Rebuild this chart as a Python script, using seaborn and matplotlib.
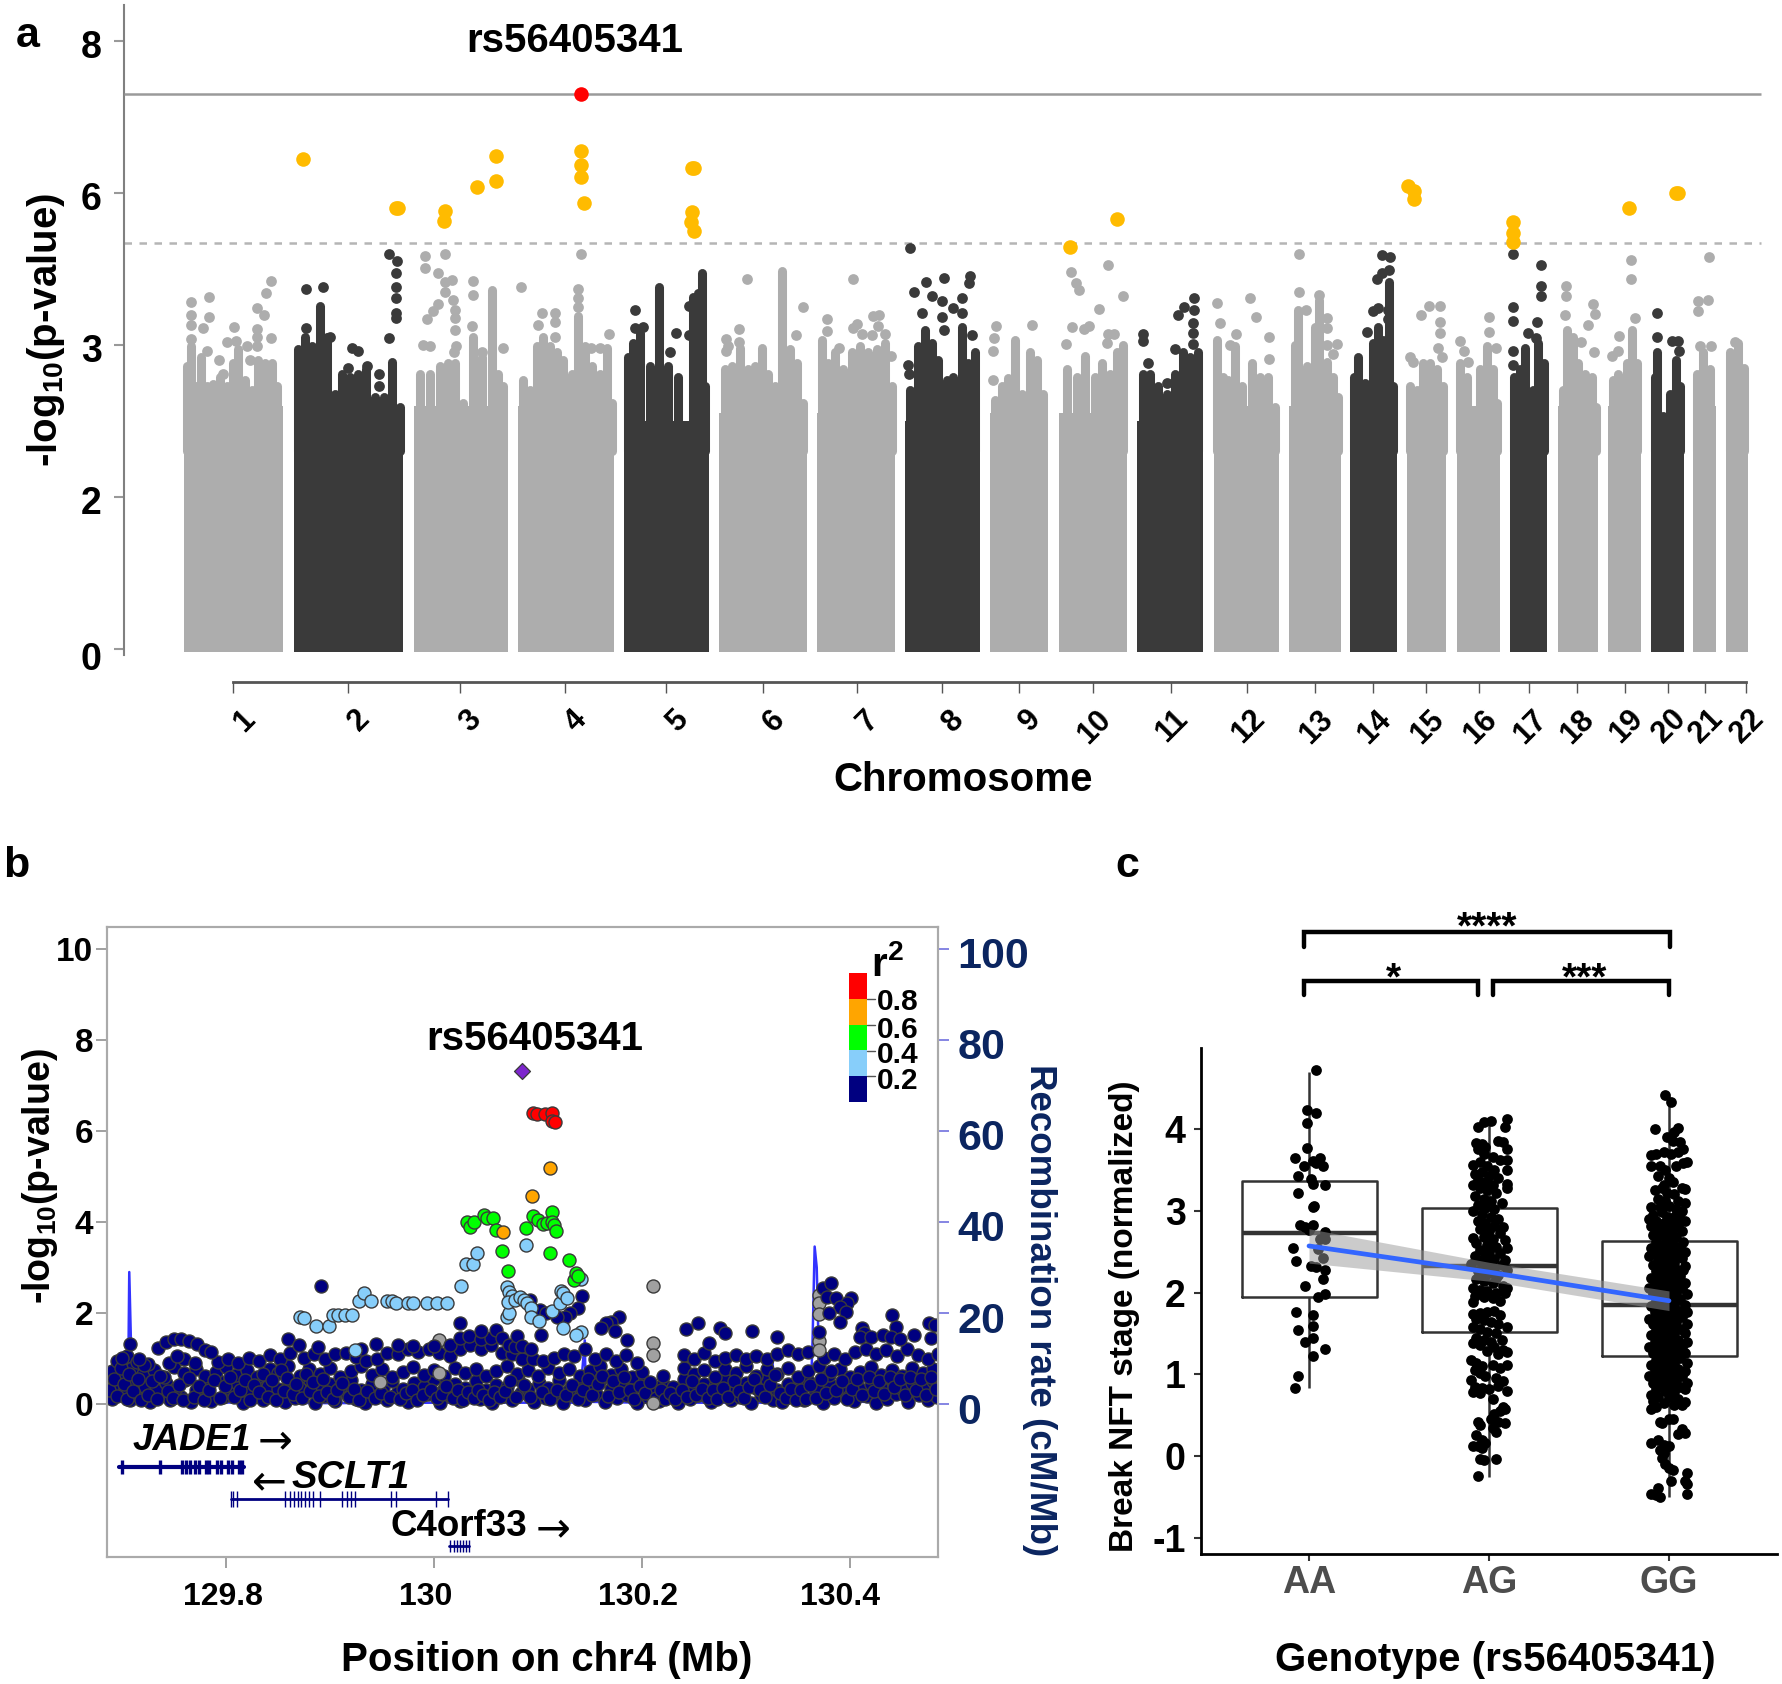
import numpy as np
import pandas as pd
import seaborn as sns
import matplotlib.pyplot as plt
import matplotlib.transforms as mtrans
from matplotlib.colors import ListedColormap
from matplotlib.lines import Line2D

sns.set_theme(style="white")
plt.rcParams['font.family'] = ['Liberation Sans', 'DejaVu Sans']
plt.rcParams['font.weight'] = 'bold'
plt.rcParams['text.color'] = 'black'
plt.rcParams['xtick.color'] = 'black'
plt.rcParams['ytick.color'] = 'black'
plt.rcParams['mathtext.fontset'] = 'custom'
plt.rcParams['mathtext.bf'] = 'Liberation Sans:bold'
plt.rcParams['mathtext.rm'] = 'Liberation Sans:bold'

# ---------- panel a data ----------
chrom_names = [str(i) for i in range(1, 23)]
chrom_start = [184, 294, 414, 518, 624, 719, 817, 905, 990, 1059, 1137, 1214, 1289, 1350, 1407, 1457, 1510, 1558, 1608, 1651, 1693, 1726]
chrom_end = [283, 403, 508, 614, 709, 807, 895, 980, 1048, 1127, 1203, 1279, 1341, 1397, 1446, 1500, 1547, 1598, 1641, 1684, 1716, 1748]
chrom_top = [2.6, 2.55, 2.6, 2.6, 2.5, 2.55, 2.55, 2.5, 2.55, 2.55, 2.5, 2.6, 2.6, 2.55, 2.6, 2.6, 2.5, 2.6, 2.6, 2.45, 2.6, 2.6]
chrom_ticks = [233, 348, 460, 565, 666, 763, 857, 942, 1019, 1093, 1171, 1247, 1315, 1373, 1426, 1479, 1529, 1577, 1625, 1668, 1705, 1746]

light_cols = [(187,2.86),(191,2.99),(196,2.73),(201,2.92),(207,2.73),(213,2.74),(220,2.79),(227,2.73),(233,2.88),(238,2.97),(245,2.77),(252,2.70),(258,2.90),(265,2.88),(272,2.88),(277,2.73),
    (420,2.81),(430,2.81),(440,2.86),(448,2.88),(455,2.88),(463,2.62),(473,3.16),(482,2.92),(492,4.09),(498,2.81),(503,2.73),
    (523,2.77),(530,2.70),(537,2.99),(543,3.16),(550,2.99),(557,2.95),(563,2.90),(572,2.81),(578,3.56),(585,2.99),(592,2.86),(600,2.81),(607,2.98),(612,2.62),
    (725,2.84),(732,2.86),(740,2.98),(748,2.84),(755,2.86),(762,2.98),(768,2.81),(775,2.73),(782,4.45),(790,2.97),(797,2.88),(803,2.62),
    (822,3.10),(828,2.88),(835,2.95),(843,2.84),(852,2.95),(860,2.99),(868,2.95),(877,2.97),(885,3.03),(892,2.73),
    (995,2.64),(1002,2.73),(1008,2.78),(1015,3.1),(1022,2.68),(1030,2.95),(1037,2.9),(1043,2.68),
    (1067,2.84),(1077,2.79),(1085,2.93),(1095,2.79),(1102,2.88),(1110,2.81),(1117,2.95),(1123,3.0),
    (1217,3.1),(1223,2.79),(1228,2.77),(1235,2.99),(1242,2.73),(1252,2.88),(1260,2.79),(1268,2.79),(1275,2.59),
    (1295,3.0),(1298,3.69),(1307,2.86),(1315,3.36),(1319,3.89),(1327,2.89),(1333,2.79),(1338,2.66),
    (1410,2.73),(1417,2.70),(1423,2.88),(1430,2.88),(1437,2.84),(1443,2.73),
    (1460,2.88),(1467,2.79),(1473,2.57),(1480,2.84),(1487,2.99),(1493,2.84),(1497,2.62),
    (1563,2.70),(1567,3.3),(1573,3.16),(1578,2.88),(1585,2.81),(1592,2.79),(1596,2.59),
    (1613,2.77),(1618,2.81),(1627,2.88),(1632,3.3),(1637,2.88),
    (1697,2.81),(1703,2.95),(1710,2.84),(1730,2.95),(1738,3.03),(1744,2.85)]
dark_cols = [(298,2.97),(305,3.15),(312,2.99),(320,3.76),(327,3.16),(335,2.68),(342,2.81),(350,2.79),(358,2.81),(366,2.84),(375,2.66),(384,2.66),(392,2.89),(400,2.59),
    (628,2.92),(633,3.03),(640,3.23),(650,2.86),(659,4.15),(668,2.86),(678,2.79),(693,3.95),(695,3.36),(698,4.02),(702,4.41),(705,2.73),
    (910,2.70),(918,2.99),(925,3.3),(932,3.03),(938,2.90),(947,2.77),(953,2.79),(962,3.36),(968,2.88),(975,2.95),
    (1143,2.81),(1150,2.81),(1158,2.73),(1167,2.68),(1175,2.81),(1183,2.95),(1190,2.92),(1198,2.95),
    (1354,2.79),(1358,2.92),(1365,2.75),(1373,3.03),(1378,3.36),(1383,3.1),(1389,4.25),(1393,2.73),
    (1514,2.79),(1520,2.84),(1525,2.98),(1533,2.7),(1538,3.03),(1544,2.88),
    (1655,2.79),(1657,2.95),(1663,2.53),(1670,2.68),(1676,2.90),(1680,2.73)]
light_dots = [(191,3.84),(191,3.59),(191,3.39),(191,3.11),(209,3.94),(209,3.55),(203,3.34),(207,2.96),(219,2.90),(234,3.35),(227,3.05),(236,3.07),(247,2.99),(257,3.31),(257,3.15),(257,2.99),(271,3.13),(257,3.73),(264,3.59),(266,4.02),(271,4.26),(250,2.90),(223,2.81),
    (425,4.76),(445,4.80),(425,4.51),(438,4.41),(445,4.25),(452,4.28),(445,4.05),(453,3.89),(438,3.81),(433,3.66),(427,3.51),(423,3.0),(430,2.99),(473,4.26),(473,3.99),(472,3.38),(503,2.98),(482,2.95),(455,3.69),(455,3.53),(455,3.30),(456,2.99),(454,2.95),
    (581,4.80),(521,4.15),(578,4.10),(578,3.92),(578,3.74),(542,3.62),(555,3.62),(555,3.46),(538,3.39),(555,3.15),(609,3.21),(600,2.98),(591,2.98),
    (747,4.30),(803,3.74),(739,3.32),(726,3.11),(739,3.05),(726,2.96),(796,3.2),(728,2.99),
    (853,4.30),(827,3.52),(827,3.28),(839,2.98),(857,3.41),(853,3.33),(862,3.21),(872,3.2),(873,3.56),(879,3.59),(878,3.37),(885,3.22),(891,2.93),
    (996,3.38),(1032,3.39),(994,3.13),(993,2.96),(993,2.77),
    (1108,4.58),(1071,4.43),(1076,4.22),(1079,4.09),(1123,3.97),(1099,3.7),(1072,3.36),(1084,3.32),(1089,3.38),(1108,3.22),(1114,3.22),(1107,3.03),(1066,3.02),
    (1217,3.82),(1250,3.93),(1220,3.44),(1256,3.55),(1236,3.22),(1269,3.16),(1269,2.91),(1230,3.0),
    (1299,4.79),(1299,4.04),(1319,3.99),(1327,3.53),(1327,3.34),(1327,3.0),(1337,3.01),(1333,2.94),(1306,3.68),
    (1410,2.92),(1413,2.89),(1429,3.77),(1440,3.77),(1421,3.58),(1440,3.46),(1440,3.23),(1438,2.98),(1442,2.92),
    (1489,3.54),(1489,3.26),(1460,3.07),(1464,2.96),(1468,2.89),(1496,2.98),
    (1566,4.17),(1566,3.97),(1593,3.81),(1595,3.61),(1565,3.59),(1588,3.4),(1581,3.05),(1594,2.95),
    (1631,4.68),(1631,4.3),(1635,3.53),(1619,3.18),(1612,2.93),(1618,2.96),
    (1709,4.73),(1698,3.87),(1708,3.89),(1698,3.66),(1700,2.99),(1711,2.99),(1735,3.06)]
dark_dots = [(306,4.10),(323,4.14),(352,2.98),(358,2.96),(348,2.85),(367,2.86),(379,2.81),(379,2.73),(389,3.13),(396,3.53),(396,3.63),(396,3.92),(396,4.14),(396,4.41),(397,4.66),(389,4.80),(306,3.33),(330,3.15),
    (635,3.69),(635,3.33),(643,3.35),(676,3.24),(670,2.95),(689,3.76),(689,3.2),
    (910,4.91),(926,4.25),(944,4.32),(914,4.05),(932,3.97),(942,3.86),(962,3.92),(953,3.72),(970,4.35),(969,4.22),(922,3.63),(942,3.55),(962,3.62),(944,3.30),(908,2.87),(909,2.81),(972,3.2),
    (1194,3.93),(1184,3.74),(1178,3.59),(1194,3.69),(1193,3.43),(1193,3.23),(1193,3.02),(1143,3.22),(1143,3.07),(1148,2.88),(1175,2.97),(1167,2.75),
    (1382,4.78),(1390,4.74),(1389,4.48),(1382,4.41),(1377,4.3),(1373,3.66),(1378,3.72),(1367,3.26),(1388,3.51),(1388,3.69),
    (1513,4.80),(1541,4.58),(1541,4.17),(1541,3.97),(1513,3.74),(1513,3.48),(1537,3.45),(1528,3.23),(1536,3.13),(1513,2.96),(1513,2.87),
    (1657,3.62),(1657,3.16),(1672,3.07),(1678,3.07),(1679,2.96)]
yellow_dots = [(303,6.45),(396,5.71),(398,5.71),(445,5.64),(444,5.44),(477,6.07),(496,6.16),(496,6.49),(581,6.55),(581,6.37),(581,6.21),(584,5.80),(692,6.32),(694,6.32),(692,5.63),(691,5.42),(694,5.25),
    (1070,4.94),(1117,5.48),(1408,6.09),(1414,6.02),(1414,5.88),(1513,5.43),(1513,5.2),(1513,5.02),(1629,5.71),(1676,6.0),(1678,6.0)]
lead_snp = [(581, 7.3)]
lead_name = "rs56405341"

# ---------- panel b data ----------
red_pts = [(130.0955,6.39),(130.0987,6.38),(130.1067,6.38),(130.113,6.39),(130.113,6.22),(130.1163,6.2)]
orange_pts = [(130.1115,5.19),(130.0939,4.57),(130.0666,3.79)]
green_pts = [(130.0314,4.0),(130.0346,3.88),(130.0388,4.0),(130.0484,4.15),(130.0506,4.08),(130.057,4.08),(130.0593,3.83),(130.0654,3.36),(130.0708,2.93),(130.0884,3.86),(130.0955,4.13),(130.0997,4.05),(130.1051,3.95),(130.109,3.97),(130.1131,4.21),(130.1131,4.0),(130.1154,3.93),(130.1173,3.80),(130.1115,3.32),(130.1298,3.16),(130.1346,2.72),(130.1362,2.88),(130.138,2.82)]
blue_pts = [(129.871,1.91),(129.875,1.90),(129.887,1.72),(129.8987,1.72),(129.9025,1.96),(129.908,1.96),(129.9144,1.96),(129.9211,1.96),(129.9282,2.26),(129.933,2.44),(129.9394,2.26),(129.9545,2.26),(129.9593,2.26),(129.9634,2.21),(129.9753,2.21),(129.9801,2.21),(129.9936,2.21),(130.0025,2.21),(130.0121,2.21),(130.0256,2.6),(130.0307,3.07),(130.0378,3.07),(130.041,3.32),(129.924,1.18),
    (130.0698,1.91),(130.0718,1.99),(130.0705,2.57),(130.0724,2.46),(130.0746,2.37),(130.0714,2.24),(130.0778,2.28),(130.0827,2.35),(130.0869,2.28),(130.0897,2.23),(130.0933,2.12),(130.0929,1.91),(130.1009,1.82),(130.1131,2.05),(130.1211,2.21),(130.1218,2.48),(130.1237,2.44),(130.1276,2.32),(130.1244,1.66),(130.0881,3.49),(130.1413,1.58),(130.1365,1.52),(130.1413,2.75)]
grey_pts = [(130.211,2.6),(130.211,1.35),(130.211,1.07),(130.37,2.39),(130.37,2.23),(130.37,1.97),(130.37,1.39),(130.37,1.18),(130.005,1.41),(130.005,0.69),(129.948,.48),(130.211,0.03)]
navy_high = [(129.891,2.6),(129.708,1.31),(130.025,1.77),(130.142,2.37),(130.138,2.1),(130.131,1.99),(130.126,1.91),(130.102,2.06),(130.108,1.99),(130.118,1.91),(130.1025,1.51),(130.0925,2.28),
    (130.178,1.91),(130.170,1.80),(130.165,1.77),(130.161,1.68),(130.174,1.61),(130.186,1.41),(130.2425,1.65),(130.254,1.78),(130.275,1.68),(130.28,1.55),(130.2645,1.34),(130.306,1.61),(130.33,1.47),(130.374,2.54),(130.382,2.65),(130.378,2.35),(130.387,2.32),(130.401,2.32),(130.3975,2.21),(130.3905,2.13),(130.38,1.99),(130.396,2.02),(130.3905,1.80),(130.44,1.95),(130.476,1.79),(130.482,1.73),(130.444,1.69),(130.462,1.51),(130.478,1.45),(130.4115,1.68),(130.413,1.55),(130.4095,1.47),(130.42,1.47),(130.432,1.51),(130.439,1.47),(130.448,1.44),(130.3705,1.58),
    (129.7,1.02),(129.716,.98),(129.735,1.24),(129.742,1.36),(129.75,1.43),(129.757,1.42),(129.764,1.38),(129.772,1.31),(129.78,1.18),(129.786,1.15),(129.753,1.06),(129.86,1.43),(129.87,1.3),(129.888,1.25),(129.93,1.2),(129.944,1.32),(129.965,1.3),(129.98,1.27),(130.0,1.27),(130.015,1.3),(130.025,1.45),(130.034,1.5),(130.045,1.42),(130.055,1.45),(130.06,1.62),(130.045,1.6),(130.065,1.45),(130.072,1.3),(130.078,1.25),(130.08,1.5),(130.085,1.28),(130.093,1.2)]
navy_low = [(129.69,.12),(129.697,.22),(129.708,.08),(129.716,.18),(129.727,.05),(129.738,.2),(129.746,.1),(129.757,.16),(129.766,.04),(129.775,.22),(129.786,.07),(129.797,.15),(129.805,.24),(129.816,.03),(129.824,.18),(129.836,.09),(129.845,.21),(129.857,.04),(129.866,.14),(129.874,.24),(129.886,.02),(129.894,.17),(129.905,.06),(129.916,.21),(129.925,.11),(129.934,.03),(129.946,.2),(129.955,.08),(129.964,.24),(129.975,.05),(129.986,.15),(129.994,.22),(130.006,.03),(130.014,.19),(130.025,.07),(130.036,.23),(130.044,.12),(130.056,.02),(130.066,.18),(130.075,.09),(130.084,.25),(130.096,.05),(130.108,.14),(130.115,.21),(130.124,.03),(130.136,.17),(130.145,.08),(130.156,.23),(130.164,.04),(130.176,.13),(130.186,.2),(130.195,.02),(130.206,.16),(130.216,.07),(130.224,.24),(130.235,.03),(130.246,.12),(130.254,.19),(130.266,.05),(130.275,.22),(130.286,.09),(130.294,.16),(130.305,.03),(130.314,.2),(130.326,.1),(130.335,.04),(130.344,.18),(130.356,.08),(130.366,.23),(130.374,.03),(130.385,.14),(130.396,.21),(130.404,.06),(130.416,.17),(130.425,.03),(130.436,.12),(130.444,.22),(130.456,.05),(130.466,.19),(130.475,.09),(130.484,.15),
    (129.693,.42),(129.703,.33),(129.712,.5),(129.722,.38),(129.733,.3),(129.742,.47),(129.752,.36),(129.761,.52),(129.771,.31),(129.781,.44),(129.791,.55),(129.801,.35),(129.811,.47),(129.82,.3),(129.83,.53),(129.84,.4),(129.85,.34),(129.861,.49),(129.87,.37),(129.88,.56),(129.89,.32),(129.9,.45),(129.91,.38),(129.92,.52),(129.93,.3),(129.94,.43),(129.951,.35),(129.96,.5),(129.97,.32),(129.981,.46),(129.99,.38),(130.0,.54),(130.01,.33),(130.02,.44),(130.03,.36),(130.04,.5),(130.05,.3),(130.06,.42),(130.07,.37),(130.081,.55),(130.09,.32),(130.101,.47),(130.11,.36),(130.12,.52),(130.13,.31),(130.14,.44),(130.15,.38),(130.16,.53),(130.17,.33),(130.18,.46),(130.19,.36),(130.2,.51),(130.21,.3),(130.22,.43),(130.23,.37),(130.24,.55),(130.25,.32),(130.26,.45),(130.27,.39),(130.28,.52),(130.29,.33),(130.3,.47),(130.31,.36),(130.32,.53),(130.33,.31),(130.34,.44),(130.35,.38),(130.36,.5),(130.37,.33),(130.38,.46),(130.39,.37),(130.4,.54),(130.41,.32),(130.42,.45),(130.43,.38),(130.44,.52),(130.45,.33),(130.46,.47),(130.47,.36),(130.48,.5),
    (129.69,.72),(129.7,.62),(129.71,.8),(129.72,.66),(129.731,.74),(129.74,.6),(129.75,.82),(129.76,.68),(129.771,.76),(129.78,.62),(129.79,.7),(129.8,.82),(129.81,.64),(129.82,.74),(129.83,.6),(129.842,.78),(129.85,.68),(129.86,.84),(129.871,.62),(129.88,.76),(129.89,.66),(129.9,.8),(129.91,.6),(129.92,.72),(129.93,.84),(129.94,.64),(129.95,.76),(129.96,.6),(129.97,.7),(129.98,.82),(129.99,.64),(130.0,.74),(130.01,.62),(130.02,.8),(130.03,.68),(130.04,.76),(130.05,.62),(130.06,.72),(130.07,.84),(130.08,.66),(130.09,.74),(130.1,.62),(130.11,.8),(130.12,.68),(130.13,.76),(130.14,.62),(130.15,.72),(130.16,.84),(130.17,.64),(130.18,.76),(130.19,.6),(130.2,.7),(130.22,.62),(130.24,.8),(130.25,.66),(130.26,.74),(130.27,.6),(130.28,.78),(130.29,.68),(130.3,.84),(130.31,.62),(130.32,.76),(130.33,.66),(130.34,.8),(130.35,.6),(130.36,.72),(130.37,.84),(130.38,.64),(130.39,.76),(130.4,.6),(130.41,.7),(130.42,.82),(130.43,.64),(130.44,.74),(130.45,.62),(130.46,.8),(130.47,.68),(130.48,.76),
    (129.695,.95),(129.705,1.05),(129.714,.92),(129.725,.88),(129.745,.9),(129.76,1.0),(129.77,.9),(129.792,.92),(129.802,1.0),(129.812,.9),(129.822,1.02),(129.832,.95),(129.842,1.08),(129.852,1.0),(129.862,1.12),(129.875,1.02),(129.885,1.1),(129.895,1.0),(129.905,1.1),(129.915,1.12),(129.925,1.04),(129.935,.95),(129.945,1.0),(129.955,1.12),(129.965,1.1),(129.975,1.22),(129.985,1.14),(129.995,1.2),(130.005,1.12),(130.015,1.05),(130.025,1.22),(130.035,1.3),(130.045,1.2),(130.055,1.3),(130.065,1.12),(130.075,1.1),(130.085,.98),(130.095,1.0),(130.105,.95),(130.115,1.02),(130.125,1.1),(130.135,1.05),(130.145,1.2),(130.155,1.0),(130.165,1.1),(130.175,.95),(130.185,1.08),(130.195,.9),(130.24,1.08),(130.25,1.0),(130.26,1.12),(130.27,.95),(130.28,1.02),(130.29,1.08),(130.3,.98),(130.31,1.05),(130.32,1.0),(130.33,1.1),(130.34,1.18),(130.35,1.1),(130.36,1.15),(130.375,1.02),(130.385,1.1),(130.395,1.0),(130.405,1.15),(130.415,1.22),(130.425,1.1),(130.435,1.18),(130.445,1.05),(130.455,1.2),(130.465,1.08),(130.475,1.0),(130.485,1.1)]
navy_fill = [(129.688,.3),(129.692,.55),(129.695,.18),(129.699,.8),(129.702,.45),(129.705,.12),(129.707,.65),(129.711,.28),(129.715,.55),(129.718,.1),(129.721,.85),(129.725,.2),(129.729,.5),(129.734,.12),(129.737,.62),(129.744,.28),(129.749,.14),(129.755,.42),(129.759,.08),(129.764,.58),(129.769,.16),(129.774,.4),(129.779,.1),(129.784,.3),(129.788,.52),(129.794,.14),(129.799,.4),(129.804,.6),(129.808,.16),(129.813,.3),(129.818,.52),(129.823,.1),(129.827,.42),(129.832,.26),(129.836,.66),(129.84,.16),(129.844,.52),(129.848,.1),(129.853,.74),(129.856,.28),(129.859,.58),(129.864,.22),(129.867,.44),(129.873,.14),(129.877,.66),(129.881,.28),(129.884,.48),(129.889,.18),(129.893,.55),(129.897,.26),(129.903,.12),(129.907,.3),(129.912,.46),(129.918,.16),(129.923,.34),(129.928,.1),(129.936,.28),(129.943,.14),(129.949,.24),(129.958,.16),(129.967,.12),(129.973,.24),(129.979,.3),(129.984,.08),(129.989,.2),(129.997,.3),(130.003,.14),(130.008,.22),(130.012,.4),(130.018,.14),(130.023,.3),(130.028,.1),(130.033,.26),(130.038,.14),(130.042,.3),(130.047,.2),(130.053,.1),(130.058,.26),(130.063,.16),(130.068,.28),(130.073,.5),(130.079,.16),(130.087,.42),(130.092,.16),(130.104,.26),(130.112,.12),(130.118,.3),(130.127,.2),(130.133,.42),(130.138,.12),(130.143,.3),(130.148,.56),(130.152,.2),(130.158,.44),(130.162,.62),(130.167,.18),(130.172,.5),(130.178,.26),(130.183,.6),(130.188,.3),(130.192,.12),(130.198,.4),(130.203,.24),(130.208,.48),(130.213,.14),(130.218,.3),(130.222,.12),(130.227,.25),(130.232,.12),(130.238,.3),(130.243,.16),(130.248,.5),(130.252,.2),(130.258,.34),(130.263,.14),(130.268,.3),(130.272,.12),(130.278,.36),(130.283,.16),(130.288,.5),(130.293,.28),(130.298,.14),(130.303,.38),(130.308,.55),(130.313,.3),(130.318,.15),(130.323,.42),(130.328,.64),(130.333,.24),(130.338,.14),(130.343,.32),(130.348,.1),(130.353,.3),(130.358,.12),(130.362,.42),(130.367,.14),(130.372,.55),(130.377,.25),(130.382,.72),(130.387,.3),(130.392,.5),(130.397,.12),(130.402,.34),(130.407,.55),(130.412,.2),(130.418,.6),(130.423,.28),(130.428,.5),(130.433,.22),(130.438,.6),(130.442,.38),(130.448,.56),(130.453,.2),(130.458,.6),(130.463,.3),(130.468,.56),(130.473,.2),(130.478,.6),(130.483,.32)]
recomb_x = [129.69, 129.70, 129.706, 129.707, 129.709, 129.715, 129.82, 129.9, 130.0, 130.14, 130.145, 130.146, 130.2, 130.323, 130.325, 130.328, 130.362, 130.364, 130.366, 130.368, 130.371, 130.42, 130.425, 130.49]
recomb_y = [0.5, 0.8, 5, 29, 10, 0.5, 0.3, 0.2, 0.3, 0.3, 14, 0.5, 0.3, 0.3, 11, 0.4, 0.4, 14, 34.6, 30, 1, 0.4, 3, 0.4]
r2_labels = ["0.8", "0.6", "0.4", "0.2"]
r2_colors = ["#FF0000", "#FFA500", "#00FF00", "#87CEFA", "#000080"]
jade1_span = [129.697, 129.817]
jade1_exons = [129.6996,129.737,129.7575,129.762,129.7658,129.7702,129.774,129.7812,129.7834,129.7917,129.795,129.8017,129.806,129.8127,129.8154]
sclt1_span = [129.8044, 130.0136]
sclt1_exons = [129.8044,129.8072,129.811,129.8568,129.8612,129.8651,129.869,129.8723,129.8762,129.88,129.8833,129.89,129.912,129.9159,129.9203,129.9242,129.9589,129.9633,130.002,130.013]
c4_span = [130.014, 130.0335]
c4_exons = [130.015,130.0195,130.0222,130.025,130.0278,130.0305,130.0333]

# ---------- panel c data ----------
genotypes = ["AA", "AG", "GG"]
box_aa = [0.83, 1.95, 2.73, 3.37, 4.70]
box_ag = [-0.25, 1.52, 2.32, 3.04, 4.10]
box_gg = [-0.50, 1.23, 1.85, 2.63, 4.40]
trend_y = [2.57, 2.25, 1.90]
trend_lo = [2.36, 2.14, 1.78]
trend_hi = [2.78, 2.37, 2.02]
dots_aa = [(.04,4.72),(-.01,4.23),(.04,4.20),(-.01,4.07),(-.01,3.77),(-.08,3.65),(.06,3.65),(.02,3.61),(-.03,3.55),(.08,3.55),(.04,3.58),(-.06,3.43),(.01,3.39),(.02,3.33),(.09,3.32),(-.06,3.22),(.02,3.05),(.03,3.06),(-.05,2.83),(-.02,2.80),(.02,2.83),(.09,2.74),(0,2.77),(-.09,2.54),(.05,2.53),(-.07,2.39),(.08,2.42),(.01,2.33),(.04,2.31),(.09,2.28),(.08,2.17),(-.02,2.08),(.09,1.98),(.05,1.94),(-.07,1.76),(.02,1.73),(.02,1.59),(-.06,1.54),(-.02,1.39),(.02,1.44),(.09,1.31),(.02,1.22),(-.06,.98),(-.08,.83),(.09,2.65),(.06,2.66)]
dots_ag = [(-.03,4.08),(.01,4.10),(.1,4.12),(-.06,4.02),(.09,4.02),(.05,3.85),(.08,3.84),(-.07,3.83),(-.04,3.82),(-.02,3.78),(.1,3.75),(-.06,3.76),(-.09,3.56),(-.03,3.70),(.02,3.66),(.06,3.62),(.1,3.62),(-.05,3.6),(-.01,3.55),(.03,3.5),(.1,3.5),(-.08,3.45),(-.04,3.48),(.0,3.42),(.05,3.4),(-.06,3.38),(-.02,3.35),(.02,3.32),(.1,3.28),(.1,3.33),(-.09,3.32),(-.05,3.28),(-.01,3.25),(.04,3.22),(-.08,3.18),(-.03,3.15),(.01,3.12),(.07,3.1),(-.06,3.07),(-.02,3.04),(.03,3.02),(-.09,3.0),(-.04,2.96),(.01,2.93),(.05,2.9),(-.06,2.88),(-.02,2.85),(.03,2.82),(.08,2.8),(-.05,2.78),(.0,2.75),(.06,2.73),(-.09,2.67),(-.03,2.68),(.02,2.65),(.09,2.64),(-.07,2.6),(-.01,2.58),(.04,2.56),(.1,2.55),(-.05,2.52),(.0,2.5),(.06,2.48),(-.08,2.45),(-.02,2.43),(.03,2.41),(.09,2.4),(-.05,2.38),(.01,2.36),(.07,2.34),(-.1,2.35),(-.03,2.32),(.03,2.3),(.1,2.28),(-.06,2.26),(.0,2.24),(.05,2.22),(-.02,2.2),(.04,2.18),(-.07,2.17),(-.03,2.14),(.02,2.12),(.08,2.08),(.1,2.05),(-.09,2.05),(-.05,2.03),(-.01,2.02),(.04,2.0),(.09,2.0),(-.08,1.96),(-.03,1.95),(.02,1.93),(.06,1.9),(-.09,1.88),(-.05,1.75),(-.09,1.74),(-.01,1.76),(.03,1.78),(.06,1.72),(-.07,1.68),(-.03,1.66),(.01,1.64),(.05,1.62),(.1,1.58),(-.09,1.58),(-.05,1.55),(-.01,1.52),(.04,1.5),(-.07,1.45),(-.03,1.42),(.01,1.4),(.07,1.42),(-.09,1.38),(-.05,1.36),(.03,1.34),(.08,1.3),(.1,1.27),(-.01,1.28),(.05,1.25),(-.1,1.18),(-.07,1.14),(-.04,1.1),(.02,1.12),(.06,1.08),(.1,1.12),(-.08,1.05),(-.05,1.02),(-.02,.98),(.04,.95),(-.1,.93),(.08,.92),(-.08,.85),(-.04,.83),(.0,.82),(.05,.86),(.1,.8),(-.09,.78),(-.05,.77),(.02,.7),(.08,.6),(.06,.55),(.03,.52),(.09,.58),(.01,.45),(.05,.42),(.09,.4),(-.06,.42),(-.05,.38),(-.07,.26),(.02,.35),(.04,.3),(-.04,.2),(-.06,.12),(-.09,.12),(-.04,.1),(-.02,.16),(-.03,-.05),(-.05,-.04),(.04,-.03),(-.06,-.24)]
dots_gg = [(-.02,4.41),(.01,4.33),(-.08,4.0),(.03,3.96),(.05,4.01),(-.01,3.9),(.02,3.85),(.06,3.84),(.08,3.75),(.05,3.72),(-.1,3.68),(-.07,3.7),(-.03,3.72),(.01,3.7),(.1,3.6),(.08,3.58),(-.1,3.55),(-.05,3.55),(-.02,3.5),(.04,3.55),(-.06,3.42),(.0,3.4),(-.03,3.32),(.02,3.35),(.07,3.28),(.09,3.27),(-.08,3.25),(-.04,3.28),(-.01,3.22),(.03,3.2),(-.06,3.15),(-.02,3.12),(.05,3.12),(.09,3.1),(-.1,3.05),(-.05,3.05),(.0,3.06),(.04,3.02),(.07,3.0),(-.09,2.95),(-.04,2.98),(-.01,2.92),(.03,2.93),(.06,2.9),(-.11,2.9),(-.07,2.88),(-.03,2.85),(.01,2.85),(.05,2.82),(.09,2.88),(-.1,2.82),(-.06,2.78),(-.02,2.76),(.02,2.78),(.07,2.75),(-.09,2.7),(-.04,2.7),(.0,2.68),(.04,2.68),(.08,2.62),(-.07,2.62),(-.02,2.6),(.02,2.58),(.06,2.56),(-.1,2.55),(-.05,2.54),(.0,2.52),(.04,2.5),(.09,2.5),(-.08,2.48),(-.03,2.46),(.02,2.44),(.07,2.42),(-.11,2.45),(-.06,2.4),(-.01,2.38),(.03,2.36),(.09,2.33),(-.09,2.34),(-.04,2.32),(.0,2.3),(.05,2.28),(.08,2.27),(-.07,2.26),(-.02,2.24),(.02,2.22),(.06,2.2),(-.1,2.18),(-.05,2.18),(.0,2.16),(.04,2.14),(.09,2.12),(-.08,2.12),(-.03,2.1),(.02,2.08),(.07,2.06),(-.11,2.05),(-.06,2.04),(-.01,2.02),(.04,2.0),(.1,1.98),(-.09,1.98),(-.04,1.96),(.01,1.94),(.06,1.92),(-.07,1.9),(-.02,1.88),(.03,1.86),(.09,1.85),(-.1,1.84),(-.05,1.82),(.0,1.8),(.05,1.78),(.1,1.76),(-.08,1.76),(-.03,1.74),(.02,1.72),(.07,1.7),(-.11,1.68),(-.06,1.68),(-.01,1.66),(.04,1.64),(.1,1.62),(-.09,1.62),(-.04,1.6),(.01,1.58),(.06,1.56),(-.07,1.54),(-.02,1.52),(.03,1.5),(.09,1.5),(-.1,1.48),(-.05,1.46),(.0,1.44),(.05,1.42),(.1,1.4),(-.08,1.4),(-.03,1.38),(.02,1.36),(.07,1.34),(-.11,1.34),(-.06,1.32),(-.01,1.3),(.04,1.28),(.09,1.26),(-.09,1.26),(-.04,1.24),(.01,1.22),(.06,1.2),(-.07,1.18),(-.02,1.16),(.03,1.14),(.1,1.14),(-.1,1.12),(-.05,1.1),(.0,1.08),(.05,1.06),(.09,1.04),(-.08,1.04),(-.03,1.02),(.02,1.0),(.07,.98),(-.11,.98),(-.06,.96),(-.01,.94),(.04,.92),(.1,.9),(-.09,.9),(-.04,.88),(.01,.86),(.06,.85),(-.07,.82),(-.02,.8),(.03,.78),(.09,.82),(-.1,.75),(-.06,.72),(.0,.72),(.05,.7),(.09,.66),(-.09,.68),(-.03,.65),(.03,.63),(.07,.62),(-.1,.58),(-.07,.6),(.0,.45),(.02,.45),(-.05,.42),(-.04,.4),(.07,.33),(.09,.28),(.05,.27),(-.1,.16),(-.06,.2),(-.03,.14),(-.05,.07),(-.03,.04),(-.02,.1),(.0,.12),(-.04,-.02),(-.02,-.1),(.0,-.14),(.02,-.17),(.1,-.2),(.09,-.3),(.1,-.34),(.01,-.3),(-.1,-.46),(-.06,-.39),(-.07,-.47),(-.05,-.5),(.1,-.46)]

W, H = 1782, 1684
fig = plt.figure(figsize=(W / 100, H / 100), dpi=100, facecolor="white")


def px_axes(left, top, right, bottom):
    return fig.add_axes([left / W, 1 - bottom / H, (right - left) / W, (bottom - top) / H])


def px_text(x, y, s, **kw):
    kw.setdefault("ha", "center")
    kw.setdefault("va", "center")
    kw.setdefault("fontweight", "bold")
    return fig.text(x / W, 1 - y / H, s, **kw)


def px_line(xs, ys, **kw):
    fig.add_artist(Line2D([x / W for x in xs], [1 - y / H for y in ys], transform=fig.transFigure, **kw))


def shift_labels(labels, dx, dy):
    # dx, dy in pixels of the saved picture
    for lab in labels:
        lab.set_transform(lab.get_transform() + mtrans.ScaledTranslation(dx / 100, dy / 100, fig.dpi_scale_trans))


# panel letters
px_text(28, 36, "a", fontsize=31)
px_text(16, 866, "b", fontsize=31)
px_text(1127, 866, "c", fontsize=31)

# ---------- panel a: Manhattan ----------
ax_a = px_axes(124, 5, 1782, 682)
axis_vals = [-5, 0, 2, 3, 6, 8, 12]
axis_pos = [-2.5, 0, 1, 2, 3, 4, 6]
ax_a.set_yscale("function", functions=(lambda v: np.interp(v, axis_vals, axis_pos),
                                       lambda p: np.interp(p, axis_pos, axis_vals)))
LIGHT, DARK = "#ADADAD", "#3A3A3A"
for i, (s, e, t) in enumerate(zip(chrom_start, chrom_end, chrom_top)):
    ax_a.bar((s + e) / 2, t + 0.04, bottom=-0.04, width=e - s, color=DARK if i % 3 == 1 else LIGHT, linewidth=0)
for cols, c in ((light_cols, LIGHT), (dark_cols, DARK)):
    df = pd.DataFrame(cols, columns=["x", "top"])
    ax_a.vlines(df["x"], 2.3, df["top"], color=c, linewidth=6.5, capstyle="round")
for pts, c, size in ((light_dots, LIGHT, 60), (dark_dots, DARK, 60), (yellow_dots, "#FFBB00", 110), (lead_snp, "#FF0000", 110)):
    df = pd.DataFrame(pts, columns=["x", "y"])
    sns.scatterplot(data=df, x="x", y="y", color=c, s=size, linewidth=0, ax=ax_a, legend=False, zorder=4)
ax_a.hlines(7.3, 124, 1761, color="#9A9A9A", linewidth=1.8, zorder=3)
ax_a.hlines(5.0, 124, 1761, color="#B5B5B5", linewidth=1.8, linestyles=(0, (3, 3)), zorder=1)
ax_a.set_xlim(124, 1782)
ax_a.set_ylim(-0.434, 8.47)
ax_a.set_yticks([0, 2, 3, 6, 8])
ax_a.set_yticklabels(["0", "2", "3", "6", "8"], fontsize=27, fontweight="bold")
ax_a.set_xticks(chrom_ticks)
ax_a.set_xticklabels(chrom_names, rotation=45, fontsize=22, fontweight="bold", ha="center")
ax_a.tick_params(axis="y", length=7, width=1.5, color="#999999", pad=9, left=True)
ax_a.tick_params(axis="x", length=8, width=1, color="#555555", pad=8, bottom=True)
ax_a.minorticks_off()
shift_labels(ax_a.get_xticklabels()[:9], 11, 0)
shift_labels(ax_a.get_xticklabels()[9:], 1, 0)
shift_labels(ax_a.get_yticklabels()[1:], 0, -3)
shift_labels(ax_a.get_yticklabels()[:1], 0, -7)
sns.despine(ax=ax_a, top=True, right=True)
ax_a.spines["left"].set_bounds(-0.08, 8.47)
ax_a.spines["left"].set_color("#808080")
ax_a.spines["left"].set_linewidth(1.5)
ax_a.spines["bottom"].set_bounds(233, 1746)
ax_a.spines["bottom"].set_color("#555555")
ax_a.spines["bottom"].set_linewidth(2)
ax_a.set_xlabel("")
ax_a.set_ylabel("")
px_text(575, 41, lead_name, fontsize=29)
px_text(46, 330, r"-log$_{\mathbf{10}}$(p-value)", fontsize=29, rotation=90)
px_text(963, 780, "Chromosome", fontsize=29)

# ---------- panel b: regional plot ----------
ax_b = px_axes(107, 927, 938, 1557)
ax_r = ax_b.twinx()
sns.lineplot(x=recomb_x, y=recomb_y, color="#3333FF", linewidth=1.8, ax=ax_r, sort=False, errorbar=None)
ax_b.set_zorder(ax_r.get_zorder() + 1)
ax_b.patch.set_visible(False)
groups = ((navy_low + navy_fill, "#000080"), (grey_pts, "#A0A0A0"), (navy_high, "#000080"), (blue_pts, "#87CEFA"),
          (green_pts, "#00FF00"), (orange_pts, "#FFA500"), (red_pts, "#FF0000"))
for pts, c in groups:
    df = pd.DataFrame(pts, columns=["pos", "logp"])
    sns.scatterplot(data=df, x="pos", y="logp", color=c, s=88, edgecolor="#3A3A3A", linewidth=1.0, ax=ax_b, legend=False)
ax_b.scatter([130.0846], [7.32], marker="D", s=66, color="#7D26CD", edgecolor="#3A3A3A", linewidth=0.9, zorder=5)
for span, exons, yrow, half, lw, span_lw in ((jade1_span, jade1_exons, -1.385, 0.15, 2.4, 3),
                                             (sclt1_span, sclt1_exons, -2.09, 0.18, 1.0, 2),
                                             (c4_span, c4_exons, -3.12, 0.13, 1.0, 2)):
    ax_b.plot(span, [yrow, yrow], color="#000080", linewidth=span_lw)
    ax_b.vlines(exons, yrow - half, yrow + half, color="#000080", linewidth=lw)
ax_b.set_xlim(129.6856, 130.4846)
ax_b.set_ylim(-3.36, 10.48)
ax_r.set_ylim(-33.6, 104.8)
ax_b.set_xticks([129.8, 130.0, 130.2, 130.4])
ax_b.set_xticklabels(["129.8", "130", "130.2", "130.4"], fontsize=23, fontweight="bold")
ax_b.set_yticks([0, 2, 4, 6, 8, 10])
ax_b.set_yticklabels(["0", "2", "4", "6", "8", "10"], fontsize=24, fontweight="bold")
ax_r.set_yticks([0, 20, 40, 60, 80, 100])
ax_r.set_yticklabels(["0", "20", "40", "60", "80", "100"], fontsize=31, fontweight="bold", color="#0B2560")
ax_b.tick_params(axis="y", length=8, width=1.3, color="#999999", pad=2, left=True)
ax_b.tick_params(axis="x", length=8, width=1.3, color="#999999", pad=10, bottom=True)
ax_r.tick_params(axis="y", length=8, width=1.3, color="#7C7CE0", pad=6, right=True)
for lab, dx in zip(ax_b.get_xticklabels(), (-3, -8, -4, -10)):
    shift_labels([lab], dx, 0)
shift_labels(ax_r.get_yticklabels(), 0, -4)
ax_b.set_xlabel("")
ax_b.set_ylabel("")
ax_r.set_ylabel("")
for a in (ax_b, ax_r):
    for sp in a.spines.values():
        sp.set_color("#AAAAAA")
        sp.set_linewidth(1.5)
px_text(535, 1039, lead_name, fontsize=29)
px_text(40, 1176, r"-log$_{\mathbf{10}}$(p-value)", fontsize=27, rotation=90)
px_text(1040, 1310, "Recombination rate (cM/Mb)", fontsize=26.5, rotation=270, color="#0B2560")
px_text(547, 1660, "Position on chr4 (Mb)", fontsize=29)
px_text(133, 1441, "JADE1", ha="left", fontsize=26.5, fontstyle="italic")
px_text(258, 1441, "\u2192", ha="left", fontsize=30, fontweight="normal", family="DejaVu Sans")
px_text(252, 1482, "\u2190", ha="left", fontsize=30, fontweight="normal", family="DejaVu Sans")
px_text(292, 1478, "SCLT1", ha="left", fontsize=27.5, fontstyle="italic")
px_text(391, 1526, "C4orf33", ha="left", fontsize=26.5)
px_text(536, 1529, "\u2192", ha="left", fontsize=30, fontweight="normal", family="DejaVu Sans")

# r2 colour key
ax_key = px_axes(849, 973, 866.5, 1102)
sns.heatmap(np.arange(5).reshape(5, 1), cmap=ListedColormap(r2_colors), cbar=False, ax=ax_key,
            xticklabels=False, yticklabels=False)
ax_key.set_xlabel("")
ax_key.set_ylabel("")
for yy in (999, 1025, 1051, 1076):
    px_line([866.5, 875], [yy, yy], color="#555555", linewidth=1)
for yy, lab in zip((1002, 1030, 1055, 1081), r2_labels):
    px_text(877, yy, lab, ha="left", fontsize=21.5)
px_text(887, 964, r"r$^{\mathbf{2}}$", fontsize=29)

# ---------- panel c: genotype boxplot ----------
ax_c = px_axes(1201, 1048, 1777, 1554)
box_df = pd.DataFrame({"genotype": np.repeat(genotypes, 5), "stage": box_aa + box_ag + box_gg})
sns.boxplot(data=box_df, x="genotype", y="stage", order=genotypes, width=0.75, fill=False, color="#333333",
            linewidth=1.8, showcaps=False, ax=ax_c, medianprops={"linewidth": 3.2, "color": "#333333"},
            whis=3, zorder=2)
for i, pts in enumerate((dots_aa, dots_ag, dots_gg)):
    df = pd.DataFrame(pts, columns=["jitter", "stage"])
    df["x"] = i + df["jitter"]
    sns.scatterplot(data=df, x="x", y="stage", color="black", s=60, linewidth=0, ax=ax_c, legend=False, zorder=3)
ax_c.fill_between([0, 1, 2], trend_lo, trend_hi, color="#999999", alpha=0.5, linewidth=0, zorder=4)
sns.lineplot(x=[0, 1, 2], y=trend_y, color="#3366FF", linewidth=3.4, ax=ax_c, errorbar=None, zorder=5)
ax_c.set_xlim(-0.6, 2.6)
ax_c.set_ylim(-1.196, 4.99)
ax_c.set_yticks([-1, 0, 1, 2, 3, 4])
ax_c.set_yticklabels(["-1", "0", "1", "2", "3", "4"], fontsize=27, fontweight="bold")
ax_c.set_xticks([0, 1, 2])
ax_c.set_xticklabels(genotypes, fontsize=27, fontweight="bold", color="#4D4D4D")
ax_c.tick_params(axis="y", length=5, width=1.5, color="#333333", pad=6, left=True)
ax_c.tick_params(axis="x", length=5, width=1.5, color="#333333", pad=3, bottom=True)
ax_c.set_xlabel("")
ax_c.set_ylabel("")
sns.despine(ax=ax_c, top=True, right=True)
for side in ("left", "bottom"):
    ax_c.spines[side].set_color("black")
    ax_c.spines[side].set_linewidth(2)
px_text(1125, 1316, "Break NFT stage (normalized)", fontsize=24, rotation=90)
px_text(1495, 1660, "Genotype (rs56405341)", fontsize=29)
px_line([1304, 1304, 1670, 1670], [947, 932, 932, 947], color="black", linewidth=3.2, solid_joinstyle="miter")
px_line([1304, 1304, 1478, 1478], [995, 981, 981, 995], color="black", linewidth=3.2, solid_joinstyle="miter")
px_line([1493, 1493, 1669, 1669], [995, 981, 981, 995], color="black", linewidth=3.2, solid_joinstyle="miter")
px_text(1487, 928, "****", fontsize=28)
px_text(1393, 979, "*", fontsize=28)
px_text(1585, 979, "***", fontsize=28)

fig.savefig("out.png", dpi=100)
